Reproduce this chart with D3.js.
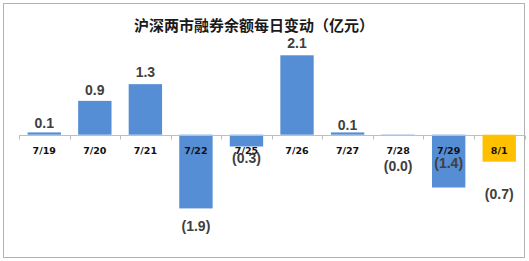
<!DOCTYPE html>
<html>
<head>
<meta charset="utf-8">
<script src="https://cdn.jsdelivr.net/npm/d3@7"></script>
<style>
  body { margin: 0; background: #fff; }
  text { font-family: Arial, "Liberation Sans", "Noto Sans CJK SC", sans-serif; }
</style>
</head>
<body>
<div id="wrapper"></div>
<script>
// categories (dates) and daily change, 100 million yuan
const dates = ["7/19", "7/20", "7/21", "7/22", "7/25", "7/26", "7/27", "7/28", "7/29", "8/1"]
const changes = [0.06, 0.89, 1.33, -1.94, -0.31, 2.09, 0.06, -0.03, -1.39, -0.71]
// where each value label sits, in value units (as placed in the original)
const labelAt = [0.31, 1.18, 1.66, -2.40, -0.61, 2.41, 0.26, -0.82, -0.74, -1.56]
const highlight = "8/1"

const title = "沪深两市融券余额每日变动（亿元）"

function drawChart() {
  const dimensions = {
    width: 529,
    height: 261,
    margin: { top: 0, right: 4, bottom: 0, left: 19 },
  }

  const wrapper = d3.select("#wrapper")
    .append("svg")
    .attr("width", dimensions.width)
    .attr("height", dimensions.height)

  // outer frame
  wrapper.append("rect")
    .attr("x", 3.5)
    .attr("y", 3.5)
    .attr("width", 521)
    .attr("height", 254)
    .attr("fill", "#fff")
    .attr("stroke", "#b3b3b3")

  wrapper.append("text")
    .attr("x", 254)
    .attr("y", 31)
    .attr("text-anchor", "middle")
    .style("font-family", "'Noto Sans CJK SC', sans-serif")
    .style("font-weight", "bold")
    .style("font-size", "15px")
    .attr("fill", "#1a1a1a")
    .text(title)

  const xScale = d3.scaleBand()
    .domain(dates)
    .range([dimensions.margin.left, dimensions.width - dimensions.margin.right - 0.5])
    .paddingInner(0.34)
    .paddingOuter(0.17)

  // 38 px per unit, zero at y ~134.7
  const yScale = d3.scaleLinear()
    .domain([-2.5, 2.5])
    .range([229.7, 39.7])

  const data = dates.map((d, i) => ({ date: d, value: changes[i], label: labelAt[i] }))

  wrapper.selectAll(".bar")
    .data(data)
    .enter().append("rect")
    .attr("class", "bar")
    .attr("x", d => xScale(d.date))
    .attr("width", xScale.bandwidth())
    .attr("y", d => yScale(Math.max(0, d.value)))
    .attr("height", d => Math.max(1, Math.abs(yScale(d.value) - yScale(0))))
    .attr("fill", d => d.date == highlight ? "#ffc000" : "#558ed5")

  // axis line with ticks at category boundaries
  const x0 = dimensions.margin.left
  const x1 = dimensions.width - dimensions.margin.right - 0.5
  const zeroY = Math.round(yScale(0)) + 0.5
  wrapper.append("line")
    .attr("x1", x0).attr("x2", x1)
    .attr("y1", zeroY).attr("y2", zeroY)
    .attr("stroke", "#bfbfbf")
  const step = xScale.step()
  wrapper.selectAll(".tick")
    .data(d3.range(dates.length + 1))
    .enter().append("line")
    .attr("class", "tick")
    .attr("x1", i => Math.round(x0 + i * step) + 0.5)
    .attr("x2", i => Math.round(x0 + i * step) + 0.5)
    .attr("y1", zeroY)
    .attr("y2", zeroY + 4)
    .attr("stroke", "#bfbfbf")

  // category labels just below the axis
  wrapper.selectAll(".cat")
    .data(data)
    .enter().append("text")
    .attr("class", "cat")
    .attr("x", d => xScale(d.date) + xScale.bandwidth() / 2)
    .attr("y", zeroY + 18)
    .attr("text-anchor", "middle")
    .style("font-family", "Verdana, 'DejaVu Sans', sans-serif")
    .style("font-weight", "bold")
    .style("font-size", "9.5px")
    .attr("fill", "#111")
    .text(d => d.date)

  const fmt = v => {
    const s = d3.format(".1f")(Math.abs(v))
    return v < 0 ? `(${s})` : s
  }

  wrapper.selectAll(".val")
    .data(data)
    .enter().append("text")
    .attr("class", "val")
    .attr("x", d => xScale(d.date) + xScale.bandwidth() / 2)
    .attr("y", d => yScale(d.label))
    .attr("dy", "0.36em")
    .attr("text-anchor", "middle")
    .style("font-family", "Arial, 'Liberation Sans', sans-serif")
    .style("font-weight", "bold")
    .style("font-size", "14px")
    .attr("fill", "#404040")
    .text(d => fmt(d.value))
}
drawChart()
</script>
</body>
</html>
